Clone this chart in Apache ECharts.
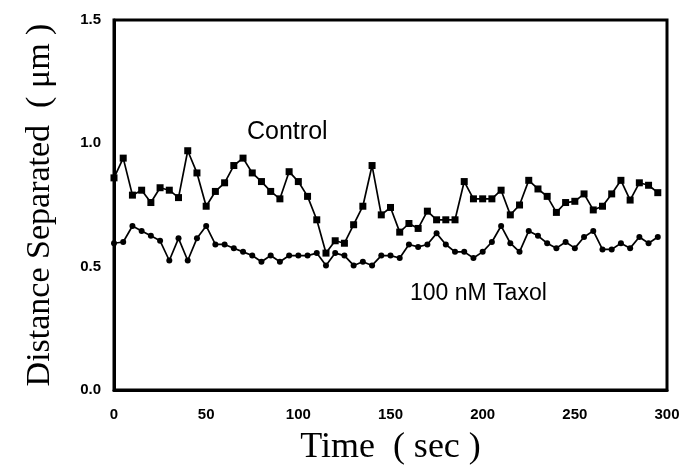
<!DOCTYPE html>
<html>
<head>
<meta charset="utf-8">
<script src="https://cdn.jsdelivr.net/npm/echarts@6/dist/echarts.min.js"></script>
<style>
html,body{margin:0;padding:0;background:#fff;}
#chart{width:685px;height:468px;}
</style>
</head>
<body>
<div id="chart"></div>
<script>
var times = [0,5,10,15,20,25,30,35,40,45,50,55,60,65,70,75,80,85,90,95,100,105,110,115,120,125,130,135,140,145,150,155,160,165,170,175,180,185,190,195,200,205,210,215,220,225,230,235,240,245,250,255,260,265,270,275,280,285,290,295];
var control = [0.86,0.94,0.79,0.81,0.76,0.82,0.81,0.78,0.97,0.88,0.745,0.805,0.84,0.91,0.94,0.88,0.845,0.805,0.775,0.885,0.845,0.785,0.69,0.555,0.605,0.595,0.67,0.745,0.91,0.71,0.74,0.64,0.675,0.655,0.725,0.69,0.69,0.69,0.845,0.775,0.775,0.775,0.81,0.71,0.75,0.85,0.815,0.785,0.72,0.76,0.765,0.795,0.73,0.745,0.795,0.85,0.77,0.84,0.83,0.80];
var taxol = [0.595,0.60,0.665,0.645,0.625,0.605,0.525,0.615,0.525,0.615,0.665,0.59,0.59,0.575,0.56,0.545,0.52,0.545,0.52,0.545,0.545,0.545,0.555,0.505,0.555,0.545,0.505,0.52,0.505,0.545,0.545,0.535,0.59,0.58,0.59,0.635,0.59,0.56,0.56,0.535,0.56,0.60,0.665,0.595,0.56,0.645,0.625,0.595,0.575,0.60,0.575,0.62,0.645,0.57,0.57,0.595,0.575,0.62,0.595,0.62];
var seriesNames = ['Control','100 nM Taxol'];
var xTitle = 'Time  ( sec )';
var yTitle = 'Distance Separated  ( μm )';

function pairs(vals){ return times.map(function(t,i){ return [t, vals[i]]; }); }

var chart = echarts.init(document.getElementById('chart'));
chart.setOption({
  animation:false,
  backgroundColor:'#fff',
  grid:{left:114,right:18,top:20,bottom:78,outerBoundsMode:'none',containLabel:false,
    show:true,borderColor:'#000',borderWidth:3,backgroundColor:'transparent'},
  xAxis:{type:'value',min:0,max:300,interval:50,
    axisLine:{show:true,lineStyle:{color:'#000',width:3}},
    axisTick:{show:false},splitLine:{show:false},
    axisLabel:{color:'#000',fontFamily:'Liberation Sans, Arial',fontWeight:'bold',fontSize:15,margin:17},
    name:xTitle,nameLocation:'middle',nameGap:40,
    nameTextStyle:{color:'#000',fontFamily:'Liberation Serif, Times New Roman',fontSize:36}},
  yAxis:{type:'value',min:0,max:1.5,interval:0.5,
    axisLine:{show:true,lineStyle:{color:'#000',width:3}},
    axisTick:{show:false},splitLine:{show:false},
    axisLabel:{color:'#000',fontFamily:'Liberation Sans, Arial',fontWeight:'bold',fontSize:15,margin:13,
      formatter:function(v){return v.toFixed(1);}},
    name:yTitle,nameLocation:'middle',nameGap:57,
    nameTextStyle:{color:'#000',fontFamily:'Liberation Serif, Times New Roman',fontSize:34}},
  graphic:[
    {type:'text',left:247,top:120,style:{text:seriesNames[0],font:'25px "Liberation Sans", Arial',fill:'#000'}},
    {type:'text',left:410,top:282,style:{text:seriesNames[1],font:'23px "Liberation Sans", Arial',fill:'#000'}}
  ],
  series:[
    {name:seriesNames[0],type:'line',data:pairs(control),symbol:'rect',symbolSize:7,showAllSymbol:true,
      lineStyle:{color:'#000',width:1.7},itemStyle:{color:'#000'}},
    {name:seriesNames[1],type:'line',data:pairs(taxol),symbol:'circle',symbolSize:6,showAllSymbol:true,
      lineStyle:{color:'#000',width:1.7},itemStyle:{color:'#000'}}
  ]
});
</script>
</body>
</html>
